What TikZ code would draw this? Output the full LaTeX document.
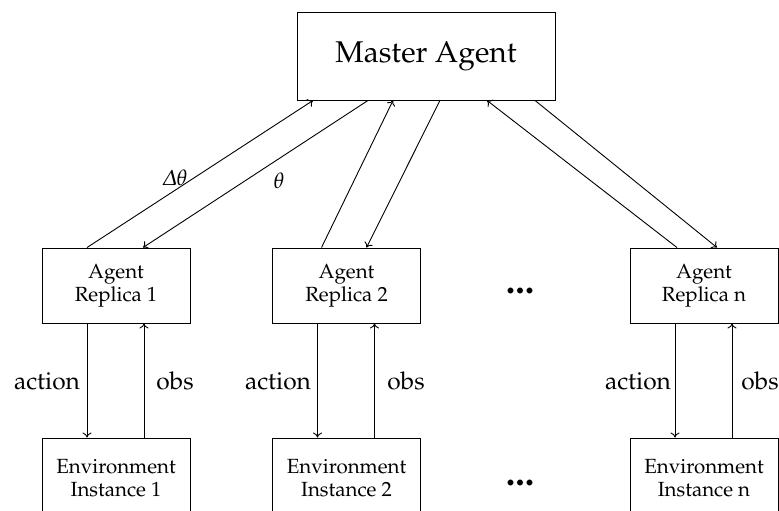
\documentclass[tikz,border=0pt]{standalone}
\usepackage[T1]{fontenc}
\usepackage[slantedGreek]{mathpazo}
\usetikzlibrary{arrows.meta}
\begin{document}
\begin{tikzpicture}[x=1pt,y=-1pt,
  box/.style={draw,line width=0.9pt,inner sep=0pt,align=center},
  flow/.style={draw,line width=0.9pt,-{To[length=5pt,width=9pt]}},
  lbl/.style={font=\fontsize{24.5}{28}\selectfont},
  dots/.style={font=\fontsize{38}{38}\selectfont\bfseries}]
\useasboundingbox (0,0) rectangle (779,511);
\node[box,minimum width=258,minimum height=88,font=\fontsize{30}{34}\selectfont] (M) at (426,56) {Master Agent};
\tikzset{small/.style={box,minimum width=148,minimum height=75,font=\fontsize{20.5}{23}\selectfont}}
\node[small] (R1) at (116,285.5) {Agent\\Replica 1};
\node[small] (R2) at (346.5,285.5) {Agent\\Replica 2};
\node[small] (Rn) at (704,285.5) {Agent\\Replica n};
\node[small,minimum height=80] (E1) at (116,478) {Environment\\Instance 1};
\node[small,minimum height=80] (E2) at (346.5,478) {Environment\\Instance 2};
\node[small,minimum height=80] (En) at (704,478) {Environment\\Instance n};
% parameter exchange with the master
\draw[flow] ([xshift=-29pt]R1.north) -- ([xshift=-113pt]M.south);
\draw[flow] ([xshift=-58pt]M.south) -- ([xshift=27pt]R1.north);
\draw[flow] ([xshift=-25pt]R2.north) -- ([xshift=-33pt]M.south);
\draw[flow] ([xshift=14pt]M.south) -- ([xshift=20pt]R2.north);
\draw[flow] ([xshift=-27pt]Rn.north) -- ([xshift=61pt]M.south);
\draw[flow] ([xshift=109pt]M.south) -- ([xshift=13pt]Rn.north);
\node[font=\fontsize{22}{24}\selectfont] (dt) at (175,178) {$\Delta\theta$};
\node[font=\fontsize{22}{24}\selectfont] (t) at (279,181) {$\theta$};
% actions and observations
\foreach \r/\e in {R1/E1,R2/E2,Rn/En}{
  \draw[flow] ([xshift=-29pt]\r.south) -- ([xshift=-29pt]\e.north);
  \draw[flow] ([xshift=28pt]\e.north) -- ([xshift=28pt]\r.south);
}
\node[lbl] (a1) at (47,381) {action};
\node[lbl] (o1) at (175,381) {obs};
\node[lbl] (a2) at (278,381) {action};
\node[lbl] (o2) at (406,381) {obs};
\node[lbl] (an) at (638,381) {action};
\node[lbl] (on) at (760,381) {obs};
\node[dots] (d1) at (520,291) {...};
\node[dots] (d2) at (520,483) {...};
\end{tikzpicture}
\end{document}
